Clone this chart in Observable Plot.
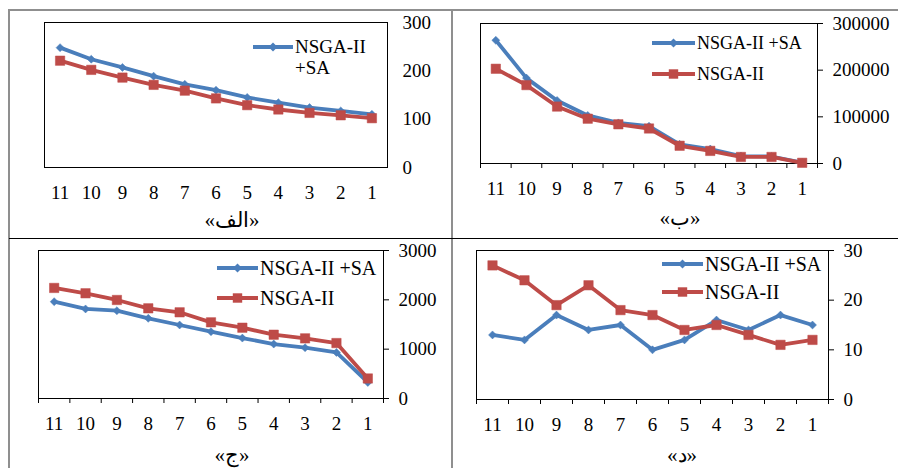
<!DOCTYPE html>
<html>
<head>
<meta charset="utf-8">
<script src="https://cdn.jsdelivr.net/npm/d3@7"></script>
<script src="https://cdn.jsdelivr.net/npm/@observablehq/plot@0.6"></script>
<style>
  html, body { margin: 0; padding: 0; background: #fff; }
  #page { position: relative; width: 898px; height: 468px; overflow: hidden; background: #fff;
          font-family: "Liberation Serif", "Times New Roman", serif; color: #000; }
  .abs { position: absolute; }
  .txt { position: absolute; white-space: nowrap; line-height: 22px; }
</style>
</head>
<body>
<div id="page"></div>
<script>
// ---- data ----
const categories = [11, 10, 9, 8, 7, 6, 5, 4, 3, 2, 1];
const seriesNames = ["NSGA-II +SA", "NSGA-II"];
const colors = ["#4A7EBB", "#BE4B48"];

const alefSA   = [248, 224, 207, 189, 172, 160, 145, 134, 124, 117, 110];
const alefNSGA = [221, 202, 186, 171, 159, 143, 129, 120, 113, 108, 102];
const alefTicks = [0, 100, 200, 300];

const beSA   = [264000, 183000, 135000, 103000, 87000, 80000, 41000, 31000, 16000, 15000, 2000];
const beNSGA = [203000, 168000, 122000, 96000, 84000, 75000, 38000, 27000, 14000, 14000, 1500];
const beTicks = [0, 100000, 200000, 300000];

const jimSA   = [1963, 1815, 1780, 1625, 1490, 1354, 1225, 1104, 1030, 934, 325];
const jimNSGA = [2241, 2133, 1997, 1828, 1747, 1544, 1435, 1293, 1219, 1124, 406];
const jimTicks = [0, 1000, 2000, 3000];

const dalSA   = [13, 12, 17, 14, 15, 10, 12, 16, 14, 17, 15];
const dalNSGA = [27, 24, 19, 23, 18, 17, 14, 15, 13, 11, 12];
const dalTicks = [0, 10, 20, 30];

const titles = ["«الف»", "«ب»", "«ج»", "«د»"];

// ---- layout ----
const page = document.getElementById("page");
function line(x, y, w, h, color) {
  const d = document.createElement("div");
  d.className = "abs";
  Object.assign(d.style, {left: x + "px", top: y + "px", width: w + "px", height: h + "px", background: color});
  page.appendChild(d);
}
line(9, 9, 889, 2, "#8f8f8f");
line(8, 9, 2, 459, "#8f8f8f");
line(451, 9, 2, 459, "#8f8f8f");
line(9, 238, 889, 1, "#000");

const ML = 10, MR = 70, MT = 12, MB = 42;

function panel(cfg) {
  const boxW = cfg.box[2] - cfg.box[0], boxH = cfg.box[3] - cfg.box[1];
  const data = [];
  cfg.series.forEach((vals, si) => vals.forEach((v, i) => data.push({cat: categories[i], value: v, s: seriesNames[si]})));
  const sa = data.filter(d => d.s === seriesNames[0]);
  const ns = data.filter(d => d.s === seriesNames[1]);
  const bounds = categories.map(c => c + 0.5).concat([categories[categories.length - 1] - 0.5]);
  const chart = Plot.plot({
    width: boxW + ML + MR,
    height: boxH + MT + MB,
    marginLeft: ML, marginRight: MR, marginTop: MT, marginBottom: MB,
    x: {domain: [d3.max(categories) + 0.5, d3.min(categories) - 0.5], axis: null},
    y: {domain: [0, d3.max(cfg.ticks)], axis: null},
    style: {fontFamily: "'Liberation Serif', 'Times New Roman', serif", fontSize: "19px", color: "#000", background: "transparent", overflow: "visible"},
    marks: [
      Plot.frame({stroke: "#000", strokeWidth: 1}),
      Plot.axisX({ticks: categories, tickSize: 0, tickPadding: 18, tickFormat: d => String(d), label: null, fontSize: 19}),
      cfg.ticksOn ? Plot.axisX({ticks: bounds, tickSize: 5, tickFormat: () => "", label: null}) : null,
      Plot.axisY({anchor: "right", ticks: cfg.ticks, tickSize: cfg.ticksOn ? 5 : 0, tickPadding: cfg.ticksOn ? 10 : 15,
                  tickFormat: d => String(d), label: null, fontSize: 19, textAnchor: "start"}),
      Plot.line(sa, {x: "cat", y: "value", stroke: colors[0], strokeWidth: 3.8}),
      Plot.dot(sa, {x: "cat", y: "value", symbol: "diamond2", r: 3.6, fill: colors[0], stroke: colors[0], strokeWidth: 0.5}),
      Plot.line(ns, {x: "cat", y: "value", stroke: colors[1], strokeWidth: 3.8}),
      Plot.dot(ns, {x: "cat", y: "value", symbol: "square", r: 5.3, fill: colors[1], stroke: colors[1], strokeWidth: 0.5})
    ]
  });
  chart.style.position = "absolute";
  chart.style.left = (cfg.box[0] - ML) + "px";
  chart.style.top = (cfg.box[1] - MT) + "px";
  page.appendChild(chart);

  // title
  const t = document.createElement("div");
  t.className = "txt";
  t.textContent = cfg.title;
  Object.assign(t.style, {left: (cfg.titleX - 60) + "px", width: "120px", textAlign: "center",
    top: (cfg.titleY - 12) + "px", fontSize: "21px", lineHeight: "24px"});
  page.appendChild(t);

  // legend
  cfg.legend.forEach(L => {
    const si = L.series;
    const svgNS = "http://www.w3.org/2000/svg";
    const svg = document.createElementNS(svgNS, "svg");
    svg.setAttribute("width", L.x1 - L.x0 + 12);
    svg.setAttribute("height", 14);
    svg.style.position = "absolute";
    svg.style.left = (L.x0 - 6) + "px";
    svg.style.top = (L.y - 7) + "px";
    const ln = document.createElementNS(svgNS, "line");
    ln.setAttribute("x1", 6); ln.setAttribute("x2", L.x1 - L.x0 + 6);
    ln.setAttribute("y1", 7); ln.setAttribute("y2", 7);
    ln.setAttribute("stroke", colors[si]); ln.setAttribute("stroke-width", 3.8);
    svg.appendChild(ln);
    const cx = (L.x1 - L.x0) / 2 + 6;
    let m;
    if (si === 0) {
      m = document.createElementNS(svgNS, "path");
      m.setAttribute("d", `M${cx},${7 - 4.5}L${cx + 4.5},7L${cx},${7 + 4.5}L${cx - 4.5},7Z`);
    } else {
      m = document.createElementNS(svgNS, "rect");
      m.setAttribute("x", cx - 4.7); m.setAttribute("y", 2.3);
      m.setAttribute("width", 9.4); m.setAttribute("height", 9.4);
    }
    m.setAttribute("fill", colors[si]);
    svg.appendChild(m);
    page.appendChild(svg);
    L.lines.forEach((txt, k) => {
      const d = document.createElement("div");
      d.className = "txt";
      d.textContent = txt;
      Object.assign(d.style, {left: (L.x1 + 2) + "px", top: (L.y - 11 + k * 21) + "px", fontSize: L.fs + "px"});
      page.appendChild(d);
    });
  });
}

panel({box: [44, 22, 387, 167], series: [alefSA, alefNSGA], ticks: alefTicks, ticksOn: false,
  title: titles[0], titleX: 232, titleY: 220,
  legend: [{series: 0, x0: 253, x1: 293, y: 47, fs: 19, lines: ["NSGA-II", "+SA"]}]});
panel({box: [480, 23, 817, 163], series: [beSA, beNSGA], ticks: beTicks, ticksOn: true,
  title: titles[1], titleX: 680, titleY: 218,
  legend: [{series: 0, x0: 652, x1: 695, y: 43, fs: 18, lines: [seriesNames[0]]},
           {series: 1, x0: 652, x1: 695, y: 74, fs: 18, lines: [seriesNames[1]]}]});
panel({box: [38, 250, 383, 398], series: [jimSA, jimNSGA], ticks: jimTicks, ticksOn: true,
  title: titles[2], titleX: 232, titleY: 455,
  legend: [{series: 0, x0: 217, x1: 258, y: 268, fs: 20, lines: [seriesNames[0]]},
           {series: 1, x0: 217, x1: 258, y: 298, fs: 20, lines: [seriesNames[1]]}]});
panel({box: [476, 250, 828, 399], series: [dalSA, dalNSGA], ticks: dalTicks, ticksOn: true,
  title: titles[3], titleX: 682, titleY: 455,
  legend: [{series: 0, x0: 662, x1: 703, y: 264, fs: 20, lines: [seriesNames[0]]},
           {series: 1, x0: 662, x1: 703, y: 292, fs: 20, lines: [seriesNames[1]]}]});
</script>
</body>
</html>
